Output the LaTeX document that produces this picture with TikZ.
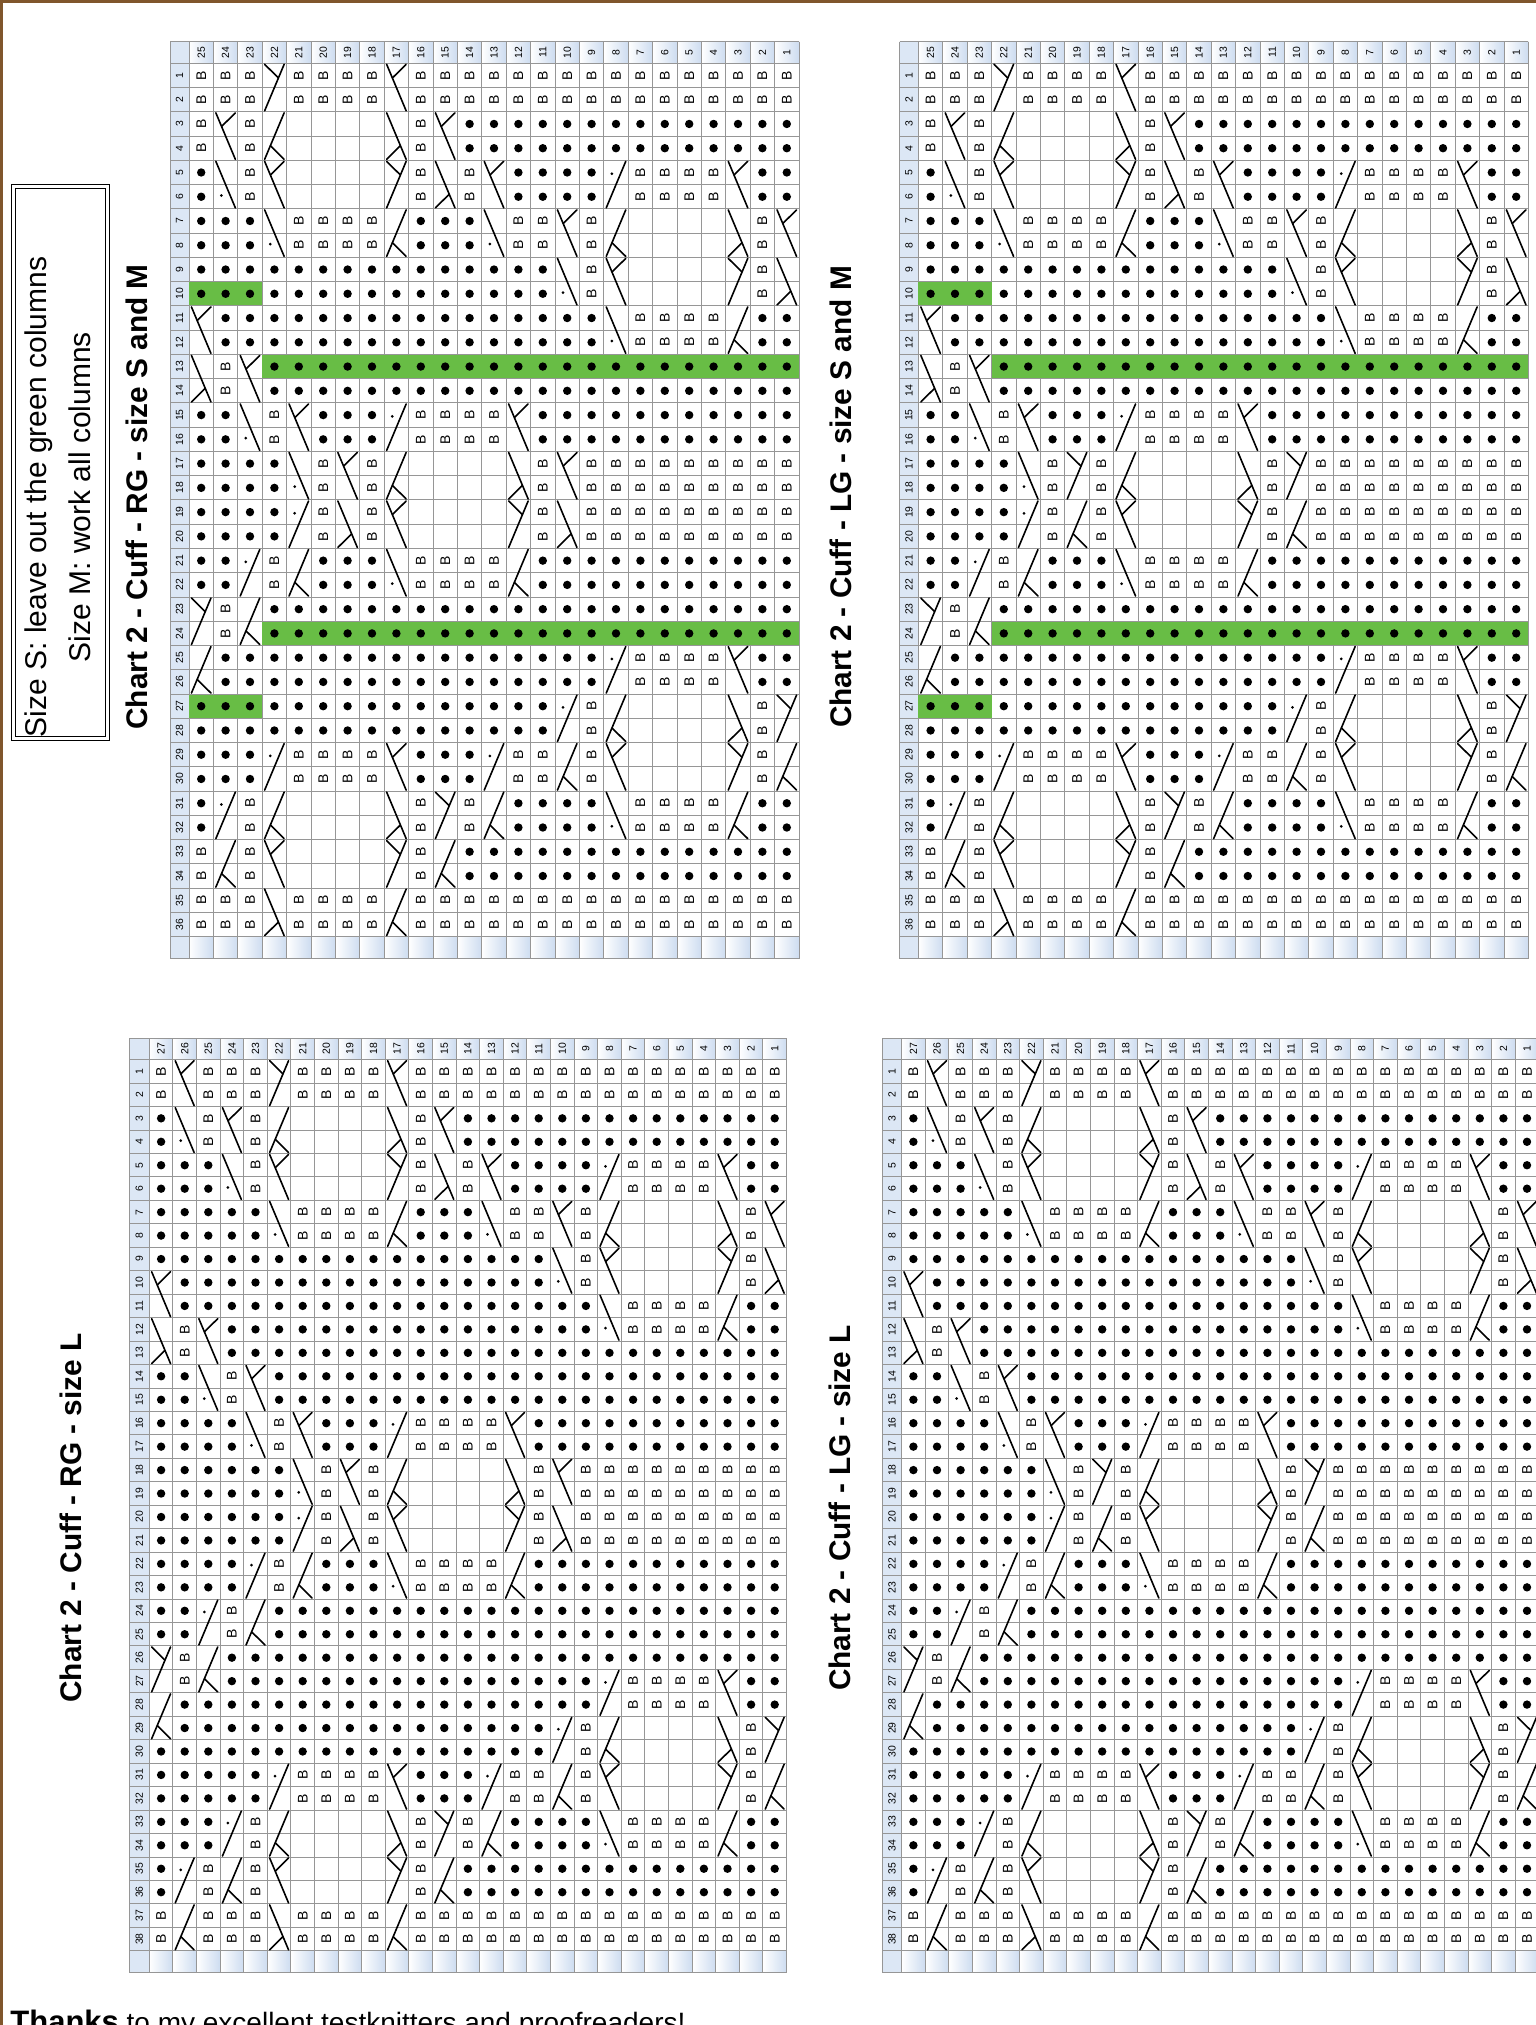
\documentclass[tikz,border=0pt]{standalone}
\usepackage{fontspec}
\setmainfont{Liberation Sans}
\setsansfont{Liberation Sans}
\definecolor{gridc}{RGB}{150,150,150}
\definecolor{hdr}{RGB}{205,220,240}
\definecolor{grn}{RGB}{104,189,69}
\definecolor{brn}{RGB}{128,86,44}

\newcount\cc \newcount\rr
\def\myR#1#2{\ifnum#1>0 #2\expandafter\myR\expandafter{\number\numexpr#1-1\relax}{#2}\fi}
\def\mygobble#1{}
\def\myfirst#1{#1}
\def\dorow#1{\ifx\relax#1\expandafter\mygobble\else\expandafter\myfirst\fi{\drawcell#1\dorow}}
\def\setchart#1#2#3#4{\def\Xd{#1}\def\Cw{#2}\def\Yd{#3}\def\Ch{#4}\global\rr=0\relax}
\def\chartrow#1{\edef\rowtmp{#1}\global\cc=0\relax\expandafter\dorow\rowtmp\relax\global\advance\rr by 1\relax}

\def\drawcell#1{%
 \pgfmathsetmacro\cXl{\Xd+\the\cc*\Cw}%
 \pgfmathsetmacro\cYt{\Yd+\the\rr*\Ch}%
 \pgfmathsetmacro\cXm{\cXl+0.5*\Cw}%
 \pgfmathsetmacro\cYm{\cYt+0.5*\Ch}%
 \if#1B\node[bsym] at (\cXm,\cYm) {B};\fi
 \if#1o\fill (\cXm,\cYm) circle[radius=2.1pt];\fi
 \if#1g\fill[grn] (\cXl,\cYt+0.7) rectangle (\cXl+\Cw,\cYt+\Ch-0.7);\fill (\cXm,\cYm) circle[radius=2.1pt];\fi
 \if#1A\draw[cab] (\cXl+0.9*\Cw,\cYt+1) -- (\cXl+0.1*\Cw,\cYt+2*\Ch-1);\draw[cab] (\cXl+0.1*\Cw,\cYt+1) -- (\cXl+0.66*\Cw,\cYt+0.6*\Ch);\fi
 \if#1b\draw[cab] (\cXl+0.1*\Cw,\cYt+1) -- (\cXl+0.9*\Cw,\cYt+2*\Ch-1);\draw[cab] (\cXl+0.9*\Cw,\cYt+1) -- (\cXl+0.34*\Cw,\cYt+0.6*\Ch);\fi
 \if#1C\draw[cab] (\cXl+0.9*\Cw,\cYt+1) -- (\cXl+0.1*\Cw,\cYt+2*\Ch-1);\draw[cab] (\cXl+0.9*\Cw,\cYt+2*\Ch-1) -- (\cXl+0.34*\Cw,\cYt+1.4*\Ch);\fi
 \if#1d\draw[cab] (\cXl+0.1*\Cw,\cYt+1) -- (\cXl+0.9*\Cw,\cYt+2*\Ch-1);\draw[cab] (\cXl+0.1*\Cw,\cYt+2*\Ch-1) -- (\cXl+0.66*\Cw,\cYt+1.4*\Ch);\fi
 \if#1P\draw[cab] (\cXl+0.9*\Cw,\cYt+1) -- (\cXl+0.1*\Cw,\cYt+2*\Ch-1);\fill (\cXl+0.33*\Cw,\cYt+0.55*\Ch) circle[radius=0.75pt];\fi
 \if#1q\draw[cab] (\cXl+0.1*\Cw,\cYt+1) -- (\cXl+0.9*\Cw,\cYt+2*\Ch-1);\fill (\cXl+0.33*\Cw,\cYt+1.45*\Ch) circle[radius=0.75pt];\fi
 \global\advance\cc by 1\relax}

\newcommand\drawframe[8]{%
 \pgfmathsetmacro\fR{#2+#4*#3}%
 \pgfmathsetmacro\fB{#6+#8*#7}%
 \pgfmathsetmacro\fBB{\fB+22}%
 \fill[hdr!70] (#1,#5) rectangle (#2,\fBB);
 \foreach \k in {1,...,#4}{%
   \shade[left color=white,right color=hdr] ({#2+(\k-1)*#3},#5) rectangle ({#2+\k*#3},#6);
   \shade[left color=white,right color=hdr] ({#2+(\k-1)*#3},\fB) rectangle ({#2+\k*#3},\fBB);
   \node[numlbl] at ({#2+(\k-0.5)*#3},{(#5+#6)/2}) {\the\numexpr#4+1-\k\relax};
 }
 \foreach \k in {1,...,#8}{\node[numlbl] at ({(#1+#2)/2},{#6+(\k-0.5)*#7}) {\k};}
 \foreach \k in {0,...,#4}{\draw[gridl] ({#2+\k*#3},#5) -- ({#2+\k*#3},\fBB);}
 \draw[gridl] (#1,#5) -- (#1,\fBB);
 \foreach \k in {0,...,#8}{\draw[gridl] (#1,{#6+\k*#7}) -- (\fR,{#6+\k*#7});}
 \draw[gridl] (#1,#5) -- (\fR,#5);
 \draw[gridl] (#1,\fBB) -- (\fR,\fBB);
}

\tikzset{
 bsym/.style={rotate=90, inner sep=0pt, font=\fontsize{7}{8}\selectfont},
 numlbl/.style={rotate=90, inner sep=0pt, font=\fontsize{5.2}{6}\selectfont},
 cab/.style={line width=0.8pt, line cap=round},
 gridl/.style={draw=gridc, line width=0.5pt},
 title/.style={rotate=90, inner sep=0pt, font=\bfseries\fontsize{14.9}{18}\selectfont},
 boxtxt/.style={rotate=90, inner sep=0pt, font=\fontsize{15}{18}\selectfont},
}

\begin{document}
\begin{tikzpicture}[x=0.5pt,y=-0.5pt]
\useasboundingbox (0,0) rectangle (1536,2025);
\clip (0,0) rectangle (1536,2025);
\fill[white] (0,0) rectangle (1536,2025);

% frames
\drawframe{170}{189}{24.4}{25}{41.7}{63.3}{24.26}{36}
\drawframe{899.5}{918.4}{24.4}{25}{41.7}{63.3}{24.26}{36}
\drawframe{129.5}{149.3}{23.6}{27}{1038}{1059.7}{23.45}{38}
\drawframe{882.6}{901.6}{23.6}{27}{1038}{1059.7}{23.45}{38}

% ---------- Chart RG S/M ----------
\setchart{189}{24.4}{63.3}{24.26}
\chartrow{BBBABBBBb\myR{16}B}
\chartrow{BBB-BBBB-\myR{16}B}
\chartrow{BbBC....dBb\myR{14}o}
\chartrow{B-B-....-B-\myR{14}o}
\chartrow{oqBb....ABdBbooooPBBBBboo}
\chartrow{o-B-....-B-B-oooo-BBBB-oo}
\chartrow{oooqBBBBCoooqBBbBC....dBb}
\chartrow{ooo-BBBB-ooo-BB-B-....-B-}
\chartrow{\myR{15}oqBb....ABd}
\chartrow{ggg\myR{12}o-B-....-B-}
\chartrow{b\myR{16}oqBBBBCoo}
\chartrow{-\myR{16}o-BBBB-oo}
\chartrow{dBb\myR{22}g}
\chartrow{-B-\myR{22}o}
\chartrow{ooqBboooPBBBBb\myR{11}o}
\chartrow{oo-B-ooo-BBBB-\myR{11}o}
\chartrow{ooooqBbBC....dBb\myR{9}B}
\chartrow{oooo-B-B-....-B-\myR{9}B}
\chartrow{ooooPBdBb....ABd\myR{9}B}
\chartrow{oooo-B-B-....-B-\myR{9}B}
\chartrow{ooPBCoooqBBBBC\myR{11}o}
\chartrow{oo-B-ooo-BBBB-\myR{11}o}
\chartrow{ABC\myR{22}o}
\chartrow{-B-\myR{22}g}
\chartrow{C\myR{16}oPBBBBboo}
\chartrow{-\myR{16}o-BBBB-oo}
\chartrow{ggg\myR{12}oPBC....dBA}
\chartrow{\myR{15}o-B-....-B-}
\chartrow{oooPBBBBboooPBBCBb....ABC}
\chartrow{ooo-BBBB-ooo-BB-B-....-B-}
\chartrow{oPBC....dBABCooooqBBBBCoo}
\chartrow{o-B-....-B-B-oooo-BBBB-oo}
\chartrow{BCBb....ABC\myR{14}o}
\chartrow{B-B-....-B-\myR{14}o}
\chartrow{BBBdBBBBC\myR{16}B}
\chartrow{BBB-BBBB-\myR{16}B}

% ---------- Chart LG S/M ----------
\setchart{918.4}{24.4}{63.3}{24.26}
\chartrow{BBBABBBBb\myR{16}B}
\chartrow{BBB-BBBB-\myR{16}B}
\chartrow{BbBC....dBb\myR{14}o}
\chartrow{B-B-....-B-\myR{14}o}
\chartrow{oqBb....ABdBbooooPBBBBboo}
\chartrow{o-B-....-B-B-oooo-BBBB-oo}
\chartrow{oooqBBBBCoooqBBbBC....dBb}
\chartrow{ooo-BBBB-ooo-BB-B-....-B-}
\chartrow{\myR{15}oqBb....ABd}
\chartrow{ggg\myR{12}o-B-....-B-}
\chartrow{b\myR{16}oqBBBBCoo}
\chartrow{-\myR{16}o-BBBB-oo}
\chartrow{dBb\myR{22}g}
\chartrow{-B-\myR{22}o}
\chartrow{ooqBboooPBBBBb\myR{11}o}
\chartrow{oo-B-ooo-BBBB-\myR{11}o}
\chartrow{ooooqBABC....dBA\myR{9}B}
\chartrow{oooo-B-B-....-B-\myR{9}B}
\chartrow{ooooPBCBb....ABC\myR{9}B}
\chartrow{oooo-B-B-....-B-\myR{9}B}
\chartrow{ooPBCoooqBBBBC\myR{11}o}
\chartrow{oo-B-ooo-BBBB-\myR{11}o}
\chartrow{ABC\myR{22}o}
\chartrow{-B-\myR{22}g}
\chartrow{C\myR{16}oPBBBBboo}
\chartrow{-\myR{16}o-BBBB-oo}
\chartrow{ggg\myR{12}oPBC....dBA}
\chartrow{\myR{15}o-B-....-B-}
\chartrow{oooPBBBBboooPBBCBb....ABC}
\chartrow{ooo-BBBB-ooo-BB-B-....-B-}
\chartrow{oPBC....dBABCooooqBBBBCoo}
\chartrow{o-B-....-B-B-oooo-BBBB-oo}
\chartrow{BCBb....ABC\myR{14}o}
\chartrow{B-B-....-B-\myR{14}o}
\chartrow{BBBdBBBBC\myR{16}B}
\chartrow{BBB-BBBB-\myR{16}B}

% ---------- Chart RG L ----------
\setchart{149.3}{23.6}{1059.7}{23.45}
\chartrow{BbBBBABBBBb\myR{16}B}
\chartrow{B-BBB-BBBB-\myR{16}B}
\chartrow{oqBbBC....dBb\myR{14}o}
\chartrow{o-B-B-....-B-\myR{14}o}
\chartrow{oooqBb....ABdBbooooPBBBBboo}
\chartrow{ooo-B-....-B-B-oooo-BBBB-oo}
\chartrow{oooooqBBBBCoooqBBbBC....dBb}
\chartrow{ooooo-BBBB-ooo-BB-B-....-B-}
\chartrow{\myR{17}oqBb....ABd}
\chartrow{b\myR{16}o-B-....-B-}
\chartrow{-\myR{18}oqBBBBCoo}
\chartrow{dBb\myR{16}o-BBBB-oo}
\chartrow{-B-\myR{24}o}
\chartrow{ooqBb\myR{22}o}
\chartrow{oo-B-\myR{22}o}
\chartrow{ooooqBboooPBBBBb\myR{11}o}
\chartrow{oooo-B-ooo-BBBB-\myR{11}o}
\chartrow{ooooooqBbBC....dBb\myR{9}B}
\chartrow{oooooo-B-B-....-B-\myR{9}B}
\chartrow{ooooooPBdBb....ABd\myR{9}B}
\chartrow{oooooo-B-B-....-B-\myR{9}B}
\chartrow{ooooPBCoooqBBBBC\myR{11}o}
\chartrow{oooo-B-ooo-BBBB-\myR{11}o}
\chartrow{ooPBC\myR{22}o}
\chartrow{oo-B-\myR{22}o}
\chartrow{ABC\myR{24}o}
\chartrow{-B-\myR{16}oPBBBBboo}
\chartrow{C\myR{18}o-BBBB-oo}
\chartrow{-\myR{16}oPBC....dBA}
\chartrow{\myR{17}o-B-....-B-}
\chartrow{oooooPBBBBboooPBBCBb....ABC}
\chartrow{ooooo-BBBB-ooo-BB-B-....-B-}
\chartrow{oooPBC....dBABCooooqBBBBCoo}
\chartrow{ooo-B-....-B-B-oooo-BBBB-oo}
\chartrow{oPBCBb....ABC\myR{14}o}
\chartrow{o-B-B-....-B-\myR{14}o}
\chartrow{BCBBBdBBBBC\myR{16}B}
\chartrow{B-BBB-BBBB-\myR{16}B}

% ---------- Chart LG L ----------
\setchart{901.6}{23.6}{1059.7}{23.45}
\chartrow{BbBBBABBBBb\myR{16}B}
\chartrow{B-BBB-BBBB-\myR{16}B}
\chartrow{oqBbBC....dBb\myR{14}o}
\chartrow{o-B-B-....-B-\myR{14}o}
\chartrow{oooqBb....ABdBbooooPBBBBboo}
\chartrow{ooo-B-....-B-B-oooo-BBBB-oo}
\chartrow{oooooqBBBBCoooqBBbBC....dBb}
\chartrow{ooooo-BBBB-ooo-BB-B-....-B-}
\chartrow{\myR{17}oqBb....ABd}
\chartrow{b\myR{16}o-B-....-B-}
\chartrow{-\myR{18}oqBBBBCoo}
\chartrow{dBb\myR{16}o-BBBB-oo}
\chartrow{-B-\myR{24}o}
\chartrow{ooqBb\myR{22}o}
\chartrow{oo-B-\myR{22}o}
\chartrow{ooooqBboooPBBBBb\myR{11}o}
\chartrow{oooo-B-ooo-BBBB-\myR{11}o}
\chartrow{ooooooqBABC....dBA\myR{9}B}
\chartrow{oooooo-B-B-....-B-\myR{9}B}
\chartrow{ooooooPBCBb....ABC\myR{9}B}
\chartrow{oooooo-B-B-....-B-\myR{9}B}
\chartrow{ooooPBCoooqBBBBC\myR{11}o}
\chartrow{oooo-B-ooo-BBBB-\myR{11}o}
\chartrow{ooPBC\myR{22}o}
\chartrow{oo-B-\myR{22}o}
\chartrow{ABC\myR{24}o}
\chartrow{-B-\myR{16}oPBBBBboo}
\chartrow{C\myR{18}o-BBBB-oo}
\chartrow{-\myR{16}oPBC....dBA}
\chartrow{\myR{17}o-B-....-B-}
\chartrow{oooooPBBBBboooPBBCBb....ABC}
\chartrow{ooooo-BBBB-ooo-BB-B-....-B-}
\chartrow{oooPBC....dBABCooooqBBBBCoo}
\chartrow{ooo-B-....-B-B-oooo-BBBB-oo}
\chartrow{oPBCBb....ABC\myR{14}o}
\chartrow{o-B-B-....-B-\myR{14}o}
\chartrow{BCBBBdBBBBC\myR{16}B}
\chartrow{B-BBB-BBBB-\myR{16}B}

% titles
\node[title] (t1) at (137,497) {Chart 2 - Cuff - RG - size S and M};
\node[title] (t2) at (841,497) {Chart 2 - Cuff - LG - size S and M};
\node[title] (t3) at (71,1518) {Chart 2 - Cuff - RG - size L};
\node[title] (t4) at (840,1508) {Chart 2 - Cuff - LG - size L};

% note box
\draw[line width=0.6pt] (11.6,184.7) rectangle (109.8,740.2);
\draw[line width=0.6pt] (15.6,188.7) rectangle (105.8,736.2);
\node[boxtxt] (s1) at (39,497) {Size S: leave out the green columns};
\node[boxtxt] (s2) at (80,497) {Size M: work all columns};

% bottom text
\node[anchor=base west, inner sep=0pt, font=\fontsize{14}{18}\selectfont] (thx) at (10,2032) {\textbf{\fontsize{15.5}{18}\selectfont Thanks} to my excellent testknitters and proofreaders!};

% page border
\draw[brn, line width=1.5pt] (0,1.5) -- (1536,1.5);
\draw[brn, line width=1.5pt] (1.5,0) -- (1.5,2025);
\end{tikzpicture}
\end{document}
